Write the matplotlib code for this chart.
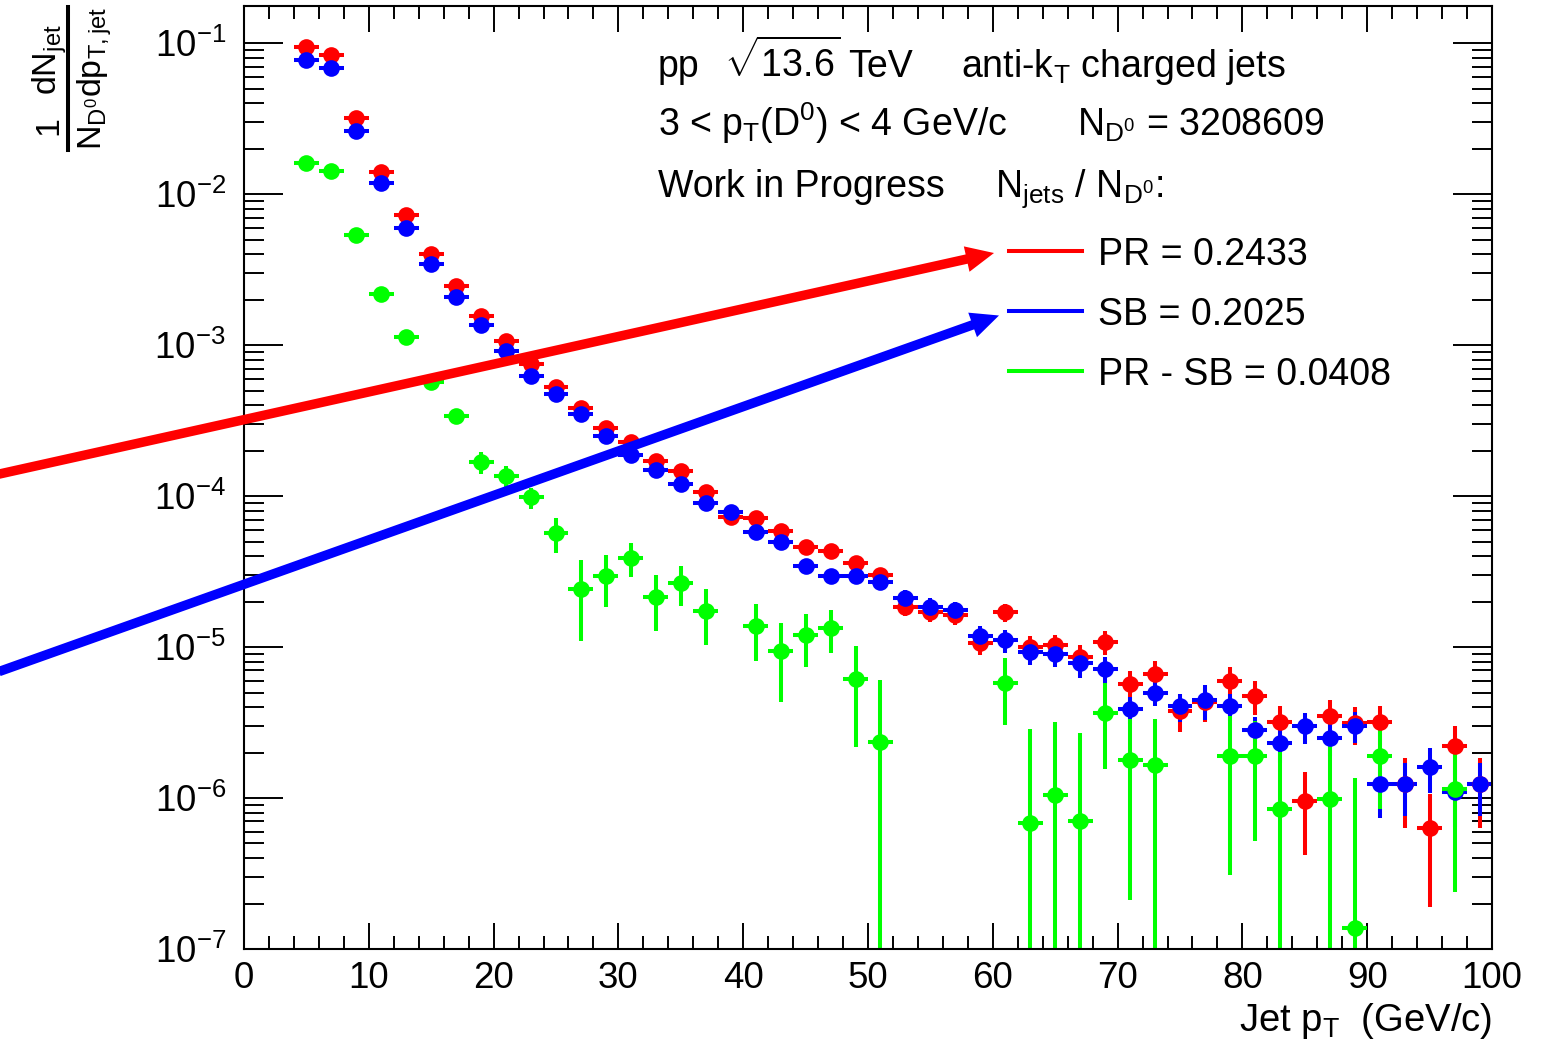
import numpy as np
import matplotlib
matplotlib.use("Agg")
import matplotlib.pyplot as plt
from matplotlib.ticker import MultipleLocator, LogLocator, NullFormatter, FuncFormatter, FixedLocator
from matplotlib.lines import Line2D
from matplotlib.patches import Polygon

plt.rcParams['font.family'] = ['Liberation Sans', 'DejaVu Sans']
plt.rcParams['mathtext.fontset'] = 'custom'
plt.rcParams['mathtext.rm'] = 'Liberation Sans'
plt.rcParams['mathtext.it'] = 'Liberation Sans'
plt.rcParams['mathtext.bf'] = 'Liberation Sans:bold'
plt.rcParams['mathtext.sf'] = 'Liberation Sans'

# ---------------- data ----------------
jet_pt = [5, 7, 9, 11, 13, 15, 17, 19, 21, 23, 25, 27, 29, 31, 33, 35, 37, 39, 41, 43,
          45, 47, 49, 51, 53, 55, 57, 59, 61, 63, 65, 67, 69, 71, 73, 75, 77, 79, 81, 83,
          85, 87, 89, 91, 93, 95, 97, 99]
bin_half_width = [1] * 48

pr_vals = [0.0952, 0.0839, 0.0319, 0.01406, 0.00725, 0.00403, 0.00245, 0.00157, 0.00106, 0.000748,
           0.000531, 0.000385, 0.000283, 0.000229, 0.000172, 0.000146, 0.000107, 7.33e-5, 7.15e-5, 5.89e-5,
           4.63e-5, 4.34e-5, 3.59e-5, 3.0e-5, 1.85e-5, 1.70e-5, 1.64e-5, 1.07e-5, 1.70e-5, 1.0e-5,
           1.03e-5, 8.6e-6, 1.08e-5, 5.66e-6, 6.65e-6, 3.80e-6, 4.3e-6, 5.96e-6, 4.73e-6, 3.18e-6,
           9.5e-7, 3.48e-6, 3.14e-6, 3.18e-6, 1.24e-6, 6.3e-7, 2.22e-6, 1.24e-6]
pr_errs = [3e-4, 3e-4, 1.5e-4, 1e-4, 6e-5, 4e-5, 3e-5, 2.5e-5, 2e-5, 1.6e-5,
           1.4e-5, 1.2e-5, 1e-5, 9e-6, 8e-6, 7e-6, 6e-6, 5e-6, 5e-6, 4.5e-6,
           4e-6, 3.8e-6, 3.5e-6, 3.2e-6, 2.5e-6, 2.4e-6, 2.3e-6, 1.9e-6, 2.4e-6, 1.8e-6,
           1.8e-6, 1.7e-6, 1.9e-6, 1.3e-6, 1.4e-6, 1.08e-6, 1.1e-6, 1.4e-6, 1.2e-6, 0.92e-6,
           0.53e-6, 1.0e-6, 0.9e-6, 0.92e-6, 0.61e-6, 0.44e-6, 0.8e-6, 0.61e-6]

sb_vals = [0.0777, 0.0687, 0.0262, 0.01183, 0.00602, 0.00346, 0.00210, 0.00137, 0.000916, 0.000625,
           0.000472, 0.000351, 0.000252, 0.000188, 0.000150, 0.000120, 8.98e-5, 7.91e-5, 5.82e-5, 5.0e-5,
           3.46e-5, 2.97e-5, 2.96e-5, 2.71e-5, 2.12e-5, 1.85e-5, 1.75e-5, 1.18e-5, 1.11e-5, 9.27e-6,
           9.04e-6, 7.88e-6, 7.11e-6, 3.90e-6, 4.95e-6, 4.06e-6, 4.43e-6, 4.06e-6, 2.84e-6, 2.31e-6,
           2.98e-6, 2.50e-6, 3.02e-6, 1.24e-6, 1.24e-6, 1.61e-6, 1.09e-6, 1.24e-6]
sb_errs = [3e-4, 3e-4, 1.3e-4, 9e-5, 5e-5, 3.5e-5, 2.7e-5, 2.2e-5, 1.8e-5, 1.5e-5,
           1.3e-5, 1.1e-5, 9e-6, 8e-6, 7e-6, 6.5e-6, 5.5e-6, 5e-6, 4.5e-6, 4e-6,
           3.5e-6, 3.2e-6, 3.2e-6, 3e-6, 2.6e-6, 2.5e-6, 2.4e-6, 2e-6, 1.9e-6, 1.7e-6,
           1.7e-6, 1.6e-6, 1.5e-6, 0.8e-6, 0.9e-6, 0.85e-6, 1.14e-6, 0.8e-6, 0.6e-6, 0.6e-6,
           0.7e-6, 0.6e-6, 0.7e-6, 0.5e-6, 0.48e-6, 0.53e-6, 0.45e-6, 0.48e-6]

nan = float('nan')
diff_vals = [0.0161, 0.01426, 0.00535, 0.00218, 0.00114, 0.000570, 0.000339, 0.000168, 0.000137, 9.8e-5,
             5.68e-5, 2.44e-5, 2.96e-5, 3.91e-5, 2.14e-5, 2.67e-5, 1.73e-5, nan, 1.37e-5, 9.4e-6,
             1.2e-5, 1.34e-5, 6.17e-6, 2.34e-6, nan, nan, nan, nan, 5.77e-6, 6.87e-7,
             1.04e-6, 7.05e-7, 3.65e-6, 1.78e-6, 1.66e-6, nan, nan, 1.91e-6, 1.89e-6, 8.5e-7,
             nan, 9.93e-7, 1.38e-7, 1.91e-6, nan, nan, 1.15e-6, nan]
diff_errs = [3e-4, 3e-4, 1.5e-4, 8e-5, 5e-5, 3e-5, 2.5e-5, 2.7e-5, 2.2e-5, 1.6e-5,
             1.5e-5, 1.34e-5, 1.12e-5, 1.0e-5, 8.6e-6, 7.9e-6, 6.9e-6, nan, 5.6e-6, 5.1e-6,
             4.6e-6, 4.2e-6, 4.0e-6, 3.73e-6, nan, nan, nan, nan, 2.7e-6, 2.18e-6,
             2.16e-6, 2.0e-6, 2.1e-6, 1.57e-6, 1.68e-6, nan, nan, 1.6e-6, 1.37e-6, 1.16e-6,
             nan, 1.23e-6, 1.23e-6, 1.07e-6, nan, nan, 0.91e-6, nan]

y_major_ticks = [1e-7, 1e-6, 1e-5, 1e-4, 1e-3, 1e-2, 1e-1]
legend_labels = ["PR = 0.2433", "SB = 0.2025", "PR - SB = 0.0408"]
series_colors = ["#ff0000", "#0000ff", "#00ff00"]

# ---------------- figure ----------------
W, H = 1557, 1050
fig = plt.figure(figsize=(W / 100, H / 100), dpi=100)
ax_l, ax_r, ax_t, ax_b = 244, 1492, 6, 949
ax = fig.add_axes([ax_l / W, 1 - ax_b / H, (ax_r - ax_l) / W, (ax_b - ax_t) / H])


def fx(x):
    return x / W


def fy(y):
    return 1 - y / H


x = np.array(jet_pt, dtype=float)
xe = np.array(bin_half_width, dtype=float)
for vals, errs, col in [(pr_vals, pr_errs, series_colors[0]),
                        (sb_vals, sb_errs, series_colors[1]),
                        (diff_vals, diff_errs, series_colors[2])]:
    v = np.array(vals, dtype=float)
    e = np.array(errs, dtype=float)
    m = ~np.isnan(v)
    lower = np.minimum(e[m], v[m] * 0.999999)
    ax.errorbar(x[m], v[m], yerr=[lower, e[m]], xerr=xe[m], fmt='o', color=col,
                ms=12, mew=0, elinewidth=2.9, capsize=0)

ax.set_yscale('log')
ax.set_xlim(0, 100)
ax.set_ylim(1e-7, 0.1767)

ax.xaxis.set_major_locator(MultipleLocator(10))
ax.xaxis.set_minor_locator(MultipleLocator(2))
ax.yaxis.set_major_locator(FixedLocator(y_major_ticks))
ax.yaxis.set_minor_locator(LogLocator(base=10, subs=np.arange(2, 10), numticks=20))
ax.yaxis.set_minor_formatter(NullFormatter())
ax.yaxis.set_major_formatter(FuncFormatter(lambda v, p: r'$10^{%d}$' % int(round(np.log10(v)))))

ax.tick_params(axis='both', which='both', direction='in', top=True, right=True, width=1.4,
               labelsize=26.5)
ax.tick_params(axis='x', which='major', length=18.7, pad=9)
ax.tick_params(axis='x', which='minor', length=9.4)
ax.tick_params(axis='y', which='major', length=28, pad=13)
ax.tick_params(axis='y', which='minor', length=14.4)
for s in ax.spines.values():
    s.set_linewidth(1.5)

# x axis title
fig.text(fx(ax_r), fy(1031), r'Jet p$_{\mathrm{T}}$  (GeV/c)', ha='right', va='baseline', fontsize=27.5)

# y axis title, built as a ROOT-like fraction
yl_fs = 24.5
ykw = dict(rotation=90, rotation_mode='anchor', va='baseline', fontsize=yl_fs)
fig.text(fx(57), fy(126), '1', ha='center', **ykw)
fig.text(fx(57), fy(60), r'dN$_{\mathrm{jet}}$', ha='center', **ykw)
fig.add_artist(Line2D([fx(68), fx(68)], [fy(150), fy(7)], color='black', lw=2.9,
                      transform=fig.transFigure))
fig.text(fx(102), fy(78), r'N$_{\mathrm{D^{0}}}$dp$_{\mathrm{T,jet}}$', ha='center', **ykw)

# info text
fs = 27
fig.text(fx(658), fy(77), 'pp', fontsize=fs, va='baseline')
fig.text(fx(724), fy(77), r'$\sqrt{13.6}$', fontsize=fs, va='baseline')
fig.text(fx(848), fy(77), 'TeV', fontsize=fs, va='baseline')
fig.text(fx(961), fy(77), r'anti-k$_{\mathrm{T}}$ charged jets', fontsize=fs, va='baseline')
fig.text(fx(658), fy(136), r'3 < p$_{\mathrm{T}}$(D$^{0}$) < 4 GeV/c', fontsize=fs, va='baseline')
fig.text(fx(1077), fy(136), r'N$_{\mathrm{D^{0}}}$ = 3208609', fontsize=fs, va='baseline')
fig.text(fx(658), fy(197), 'Work in Progress', fontsize=fs, va='baseline')
fig.text(fx(995), fy(197), r'N$_{\mathrm{jets}}$ / N$_{\mathrm{D^{0}}}$:', fontsize=fs, va='baseline')

# legend block
leg_rows = [251, 311, 371]
for lab, col, yy in zip(legend_labels, series_colors, leg_rows):
    fig.add_artist(Line2D([fx(1009), fx(1082)], [fy(yy), fy(yy)], color=col, lw=2.9,
                          transform=fig.transFigure))
    fig.text(fx(1098), fy(yy + 14), lab, fontsize=fs, va='baseline')


# arrows (annotation, figure pixel space)
def arrow(x0, y0, x1, y1, col, lw_px=9.5, hl=28, hw=13):
    d = np.array([x1 - x0, y1 - y0], dtype=float)
    u = d / np.hypot(*d)
    n = np.array([-u[1], u[0]])
    tip = np.array([x1, y1], dtype=float)
    base = tip - hl * u
    shaft_end = base + 2 * u
    fig.add_artist(Line2D([fx(x0), fx(shaft_end[0])], [fy(y0), fy(shaft_end[1])], color=col,
                          lw=lw_px * 0.72, solid_capstyle='butt', transform=fig.transFigure,
                          zorder=10))
    pts = [tip, base + hw * n, base - hw * n]
    fig.add_artist(Polygon([[fx(p[0]), fy(p[1])] for p in pts], closed=True, facecolor=col,
                           edgecolor='none', transform=fig.transFigure, zorder=10))


arrow(-5, 475, 994, 253, series_colors[0])
arrow(-5, 673, 999, 315.5, series_colors[1])

fig.savefig('out.png', dpi=100)
